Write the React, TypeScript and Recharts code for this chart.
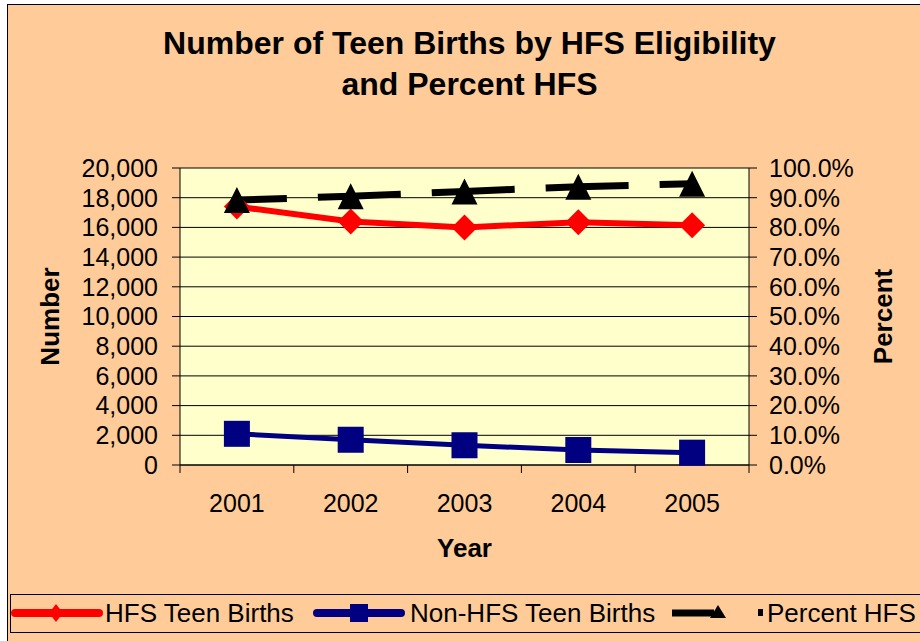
import React from 'react';
import {
  ComposedChart,
  Line,
  XAxis,
  YAxis,
  CartesianGrid,
} from 'recharts';

// values
const years = ['2001', '2002', '2003', '2004', '2005'];
const hfsBirths = [17400, 16400, 16000, 16350, 16150];
const nonHfsBirths = [2100, 1700, 1330, 1010, 830];
const percentHfs = [0.892, 0.905, 0.921, 0.937, 0.947];

const numberTicks = [0, 2000, 4000, 6000, 8000, 10000, 12000, 14000, 16000, 18000, 20000];
const percentTicks = [0, 0.1, 0.2, 0.3, 0.4, 0.5, 0.6, 0.7, 0.8, 0.9, 1];

const data = years.map((year, i) => ({
  year,
  hfs: hfsBirths[i],
  nonHfs: nonHfsBirths[i],
  pct: percentHfs[i],
}));

const FONT = '"Liberation Sans", Arial, sans-serif';
const RED = '#FF0000';
const NAVY = '#000080';
const X_TICK_SIZE = 8;
const X_TICK_MARGIN = 21;

const renderDiamond = (props: any) => {
  const { cx, cy, key } = props;
  if (cx == null || cy == null) return <g key={key} />;
  return (
    <polygon
      key={key}
      points={`${cx},${cy - 13} ${cx + 13},${cy} ${cx},${cy + 13} ${cx - 13},${cy}`}
      fill={RED}
    />
  );
};

const renderSquare = (props: any) => {
  const { cx, cy, key } = props;
  if (cx == null || cy == null) return <g key={key} />;
  return <rect key={key} x={cx - 13} y={cy - 13} width={26} height={26} fill={NAVY} />;
};

const renderTriangle = (props: any) => {
  const { cx, cy, key } = props;
  if (cx == null || cy == null) return <g key={key} />;
  return (
    <polygon
      key={key}
      points={`${cx},${cy - 13} ${cx + 13},${cy + 13} ${cx - 13},${cy + 13}`}
      fill="#000"
    />
  );
};

// Excel style: tick marks sit between the categories, labels in the middle
const YearTick = (props: any) => {
  const { x, y, payload, index, visibleTicksCount } = props;
  const half = payload?.offset ?? 0;
  const y0 = y - X_TICK_MARGIN - X_TICK_SIZE;
  const y1 = y - X_TICK_MARGIN;
  return (
    <g>
      <line x1={x - half} y1={y0} x2={x - half} y2={y1} stroke="#000" />
      {index === visibleTicksCount - 1 && (
        <line x1={x + half} y1={y0} x2={x + half} y2={y1} stroke="#000" />
      )}
      <text x={x} y={y} dy="0.71em" textAnchor="middle" fontSize={25} fill="#000">
        {payload.value}
      </text>
    </g>
  );
};

const legendItems = [
  { label: 'HFS Teen Births', left: 11, textLeft: 105 },
  { label: 'Non-HFS Teen Births', left: 313, textLeft: 410 },
  { label: 'Percent HFS', left: 672, textLeft: 767 },
];

function LegendIcon({ index }: { index: number }) {
  if (index === 0) {
    return (
      <svg width={92} height={24}>
        <line x1={4} y1={12} x2={88} y2={12} stroke={RED} strokeWidth={8} strokeLinecap="round" />
        <polygon points="45,3 52,12 45,21 38,12" fill={RED} />
      </svg>
    );
  }
  if (index === 1) {
    return (
      <svg width={92} height={24}>
        <line x1={4} y1={12} x2={88} y2={12} stroke={NAVY} strokeWidth={8} strokeLinecap="round" />
        <rect x={37} y={3} width={18} height={18} fill={NAVY} />
      </svg>
    );
  }
  return (
    <svg width={92} height={24}>
      <line x1={0} y1={12} x2={42} y2={12} stroke="#000" strokeWidth={7} />
      <polygon points="46,4 54,17 38,17" fill="#000" />
      <rect x={86} y={8} width={5} height={7} fill="#000" />
    </svg>
  );
}

export default function App() {
  return (
    <div
      style={{
        position: 'absolute',
        left: 0,
        top: 0,
        width: 920,
        height: 641,
        overflow: 'hidden',
        background: '#fff',
        fontFamily: FONT,
      }}
    >
      <div
        style={{
          position: 'absolute',
          left: 7,
          top: 4,
          width: 960,
          height: 700,
          background: '#FFCC99',
          borderLeft: '1px solid #000',
          borderTop: '1px solid #000',
        }}
      />
      <div
        style={{
          position: 'absolute',
          left: 0,
          top: 23,
          width: 939,
          textAlign: 'center',
          fontWeight: 'bold',
          fontSize: 32,
          lineHeight: '41px',
          color: '#000',
        }}
      >
        Number of Teen Births by HFS Eligibility
        <br />
        and Percent HFS
      </div>

      <ComposedChart
        width={920}
        height={641}
        data={data}
        margin={{ top: 168, right: 37, bottom: 78, left: 50 }}
        style={{ position: 'absolute', left: 0, top: 0 }}
      >
        <CartesianGrid
          yAxisId="left"
          vertical={false}
          stroke="#000"
          strokeOpacity={1}
          fill="#FFFFCC"
          fillOpacity={1}
        />
        <XAxis
          dataKey="year"
          scale="band"
          tickLine={false}
          axisLine={{ stroke: '#000' }}
          tickSize={X_TICK_SIZE}
          tickMargin={X_TICK_MARGIN}
          height={98}
          interval={0}
          tick={<YearTick />}
          label={{
            value: 'Year',
            position: 'insideBottom',
            offset: 6,
            style: { fontWeight: 'bold', fontSize: 26, fill: '#000' },
          }}
        />
        <YAxis
          yAxisId="left"
          domain={[0, 20000]}
          ticks={numberTicks}
          width={130}
          tickSize={8}
          tickMargin={14}
          interval={0}
          axisLine={{ stroke: '#000' }}
          tickLine={{ stroke: '#000' }}
          tick={{ fill: '#000', fontSize: 25 }}
          tickFormatter={(v: number) => v.toLocaleString('en-US')}
          label={{
            value: 'Number',
            angle: -90,
            position: 'insideLeft',
            offset: 0,
            style: { textAnchor: 'middle', fontWeight: 'bold', fontSize: 26, fill: '#000' },
          }}
        />
        <YAxis
          yAxisId="right"
          orientation="right"
          domain={[0, 1]}
          ticks={percentTicks}
          width={134}
          tickSize={8}
          tickMargin={12}
          interval={0}
          axisLine={{ stroke: '#000' }}
          tickLine={{ stroke: '#000' }}
          tick={{ fill: '#000', fontSize: 25 }}
          tickFormatter={(v: number) => `${(v * 100).toFixed(1)}%`}
          label={{
            value: 'Percent',
            angle: -90,
            position: 'insideRight',
            offset: 0,
            style: { textAnchor: 'middle', fontWeight: 'bold', fontSize: 26, fill: '#000' },
          }}
        />
        <Line
          yAxisId="left"
          type="linear"
          dataKey="hfs"
          stroke={RED}
          strokeWidth={6}
          dot={renderDiamond}
          activeDot={false}
          isAnimationActive={false}
        />
        <Line
          yAxisId="left"
          type="linear"
          dataKey="nonHfs"
          stroke={NAVY}
          strokeWidth={5}
          dot={renderSquare}
          activeDot={false}
          isAnimationActive={false}
        />
        <Line
          yAxisId="right"
          type="linear"
          dataKey="pct"
          stroke="#000"
          strokeWidth={7}
          strokeDasharray="83 31"
          strokeDashoffset={33}
          dot={renderTriangle}
          activeDot={false}
          isAnimationActive={false}
        />
      </ComposedChart>

      <div
        style={{
          position: 'absolute',
          left: 10,
          top: 594,
          width: 940,
          height: 39,
          border: '1px solid #000',
          boxSizing: 'border-box',
        }}
      />
      {legendItems.map((item, i) => (
        <React.Fragment key={item.label}>
          <div style={{ position: 'absolute', left: item.left, top: 601 }}>
            <LegendIcon index={i} />
          </div>
          <div
            style={{
              position: 'absolute',
              left: item.textLeft,
              top: 598,
              fontSize: 26,
              lineHeight: '30px',
              color: '#000',
              whiteSpace: 'nowrap',
            }}
          >
            {item.label}
          </div>
        </React.Fragment>
      ))}
    </div>
  );
}
